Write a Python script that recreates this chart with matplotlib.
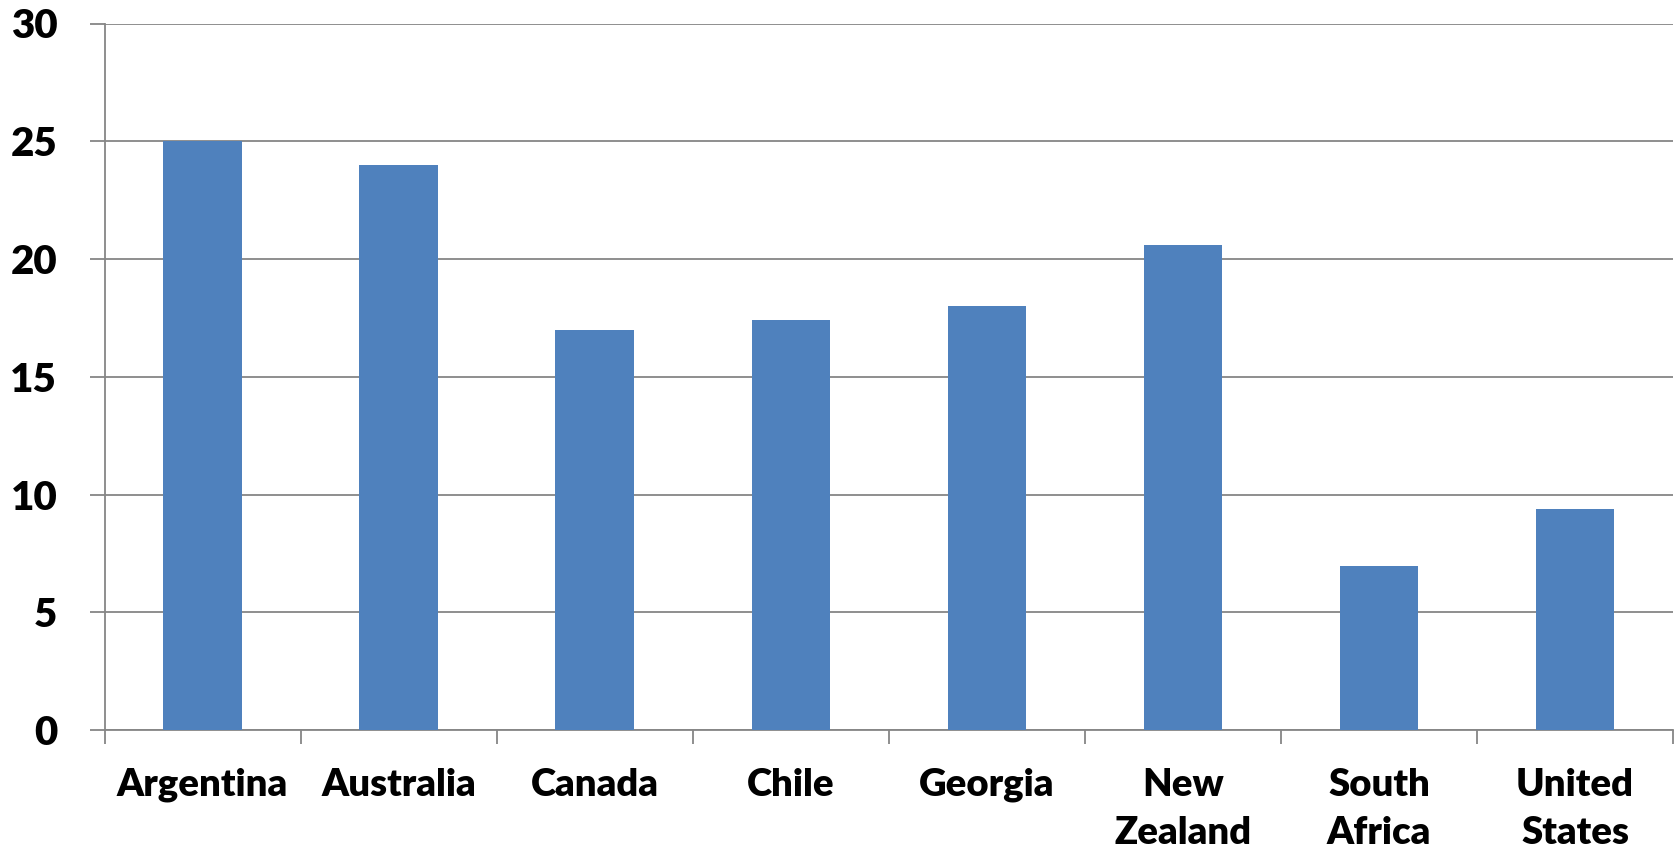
import matplotlib
matplotlib.use("Agg")
import matplotlib.pyplot as plt
import numpy as np

countries = ["Argentina", "Australia", "Canada", "Chile", "Georgia",
             "New\nZealand", "South\nAfrica", "United\nStates"]
values = [25.0, 24.0, 17.0, 17.4, 18.0, 20.6, 6.95, 9.4]
y_ticks = [0, 5, 10, 15, 20, 25, 30]

bar_color = "#4F81BD"
line_color = "#868686"

plt.rcParams["font.family"] = ["Lato", "DejaVu Sans"]

fig = plt.figure(figsize=(16.77, 8.56), dpi=100)
W, H = 1677, 856
ax = fig.add_axes([104.5 / W, 1 - 730 / H, (1673 - 104.5) / W, (730 - 23.5) / H])

x = np.arange(len(countries))
ax.bar(x, values, width=0.4, color=bar_color, zorder=3)

ax.set_xlim(-0.5, len(countries) - 0.5)
ax.set_ylim(0, 30)
ax.set_yticks(y_ticks)
ax.set_yticklabels([str(t) for t in y_ticks], fontsize=29, fontweight="heavy")
ax.yaxis.grid(True, color=line_color, linewidth=1.3, zorder=0)
ax.set_axisbelow(True)

# Category boundary ticks below the axis, labels at category centres
ax.set_xticks(np.arange(-0.5, len(countries), 1.0))
ax.set_xticklabels([])
ax.set_xticks(x, minor=True)
ax.set_xticklabels(countries, minor=True, fontsize=27.5, fontweight="heavy",
                   linespacing=1.5, va="top")
ax.tick_params(axis="x", which="major", length=10, width=1.3, color=line_color)
ax.tick_params(axis="x", which="minor", length=0, pad=27)
ax.tick_params(axis="y", length=11, width=1.3, color=line_color, pad=23)

for side in ("top", "right"):
    ax.spines[side].set_visible(False)
for side in ("left", "bottom"):
    ax.spines[side].set_color(line_color)
    ax.spines[side].set_linewidth(1.3)

fig.savefig("out.png", dpi=100, facecolor="white")
